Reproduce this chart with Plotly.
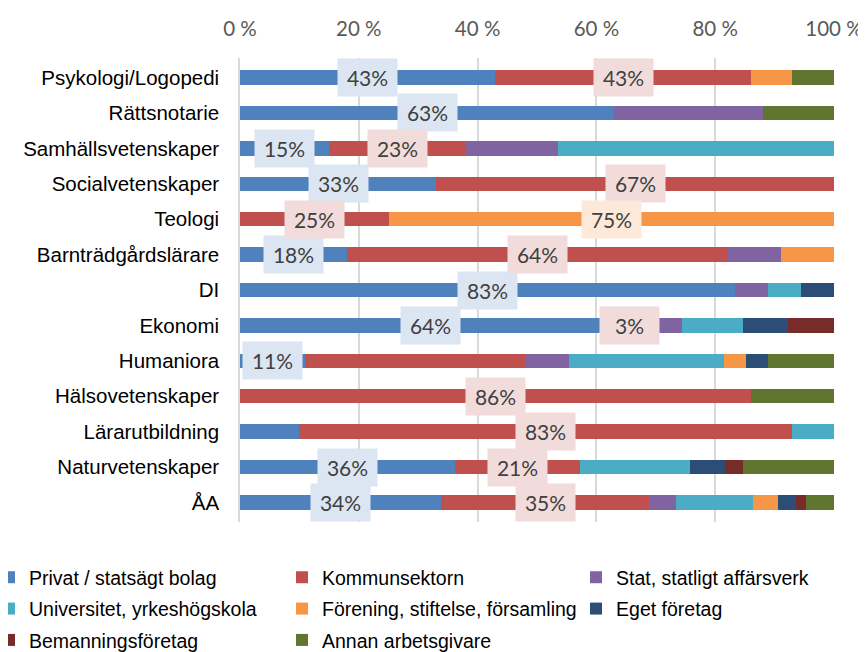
import plotly.graph_objects as go

categories = ["Psykologi/Logopedi", "Rättsnotarie", "Samhällsvetenskaper", "Socialvetenskaper",
              "Teologi", "Barnträdgårdslärare", "DI", "Ekonomi", "Humaniora",
              "Hälsovetenskaper", "Lärarutbildning", "Naturvetenskaper", "ÅA"]

series_names = ["Privat / statsägt bolag", "Kommunsektorn", "Stat, statligt affärsverk",
                "Universitet, yrkeshögskola", "Förening, stiftelse, församling", "Eget företag",
                "Bemanningsföretag", "Annan arbetsgivare"]

privat      = [43, 63, 15, 33, 0, 18, 83, 64, 11, 0, 10, 36, 34]
kommun      = [43, 0, 23, 67, 25, 64, 0, 3, 37, 86, 83, 21, 35]
stat        = [0, 25, 15.4, 0, 0, 9, 5.7, 7.4, 7.3, 0, 0, 0, 4.7]
universitet = [0, 0, 46.3, 0, 0, 0, 5.5, 10.2, 26.1, 0, 7, 18.3, 12.9]
forening    = [7, 0, 0, 0, 75, 9, 0, 0, 3.7, 0, 0, 0, 4.2]
eget        = [0, 0, 0, 0, 0, 0, 5.5, 7.7, 3.7, 0, 0, 6, 3]
bemanning   = [0, 0, 0, 0, 0, 0, 0, 7.7, 0, 0, 0, 3, 1.7]
annan       = [7, 12, 0, 0, 0, 0, 0, 0, 11.1, 14, 0, 15.2, 4.8]

# which data labels are shown (per series, per category)
label_privat   = [1, 1, 1, 1, 0, 1, 1, 1, 1, 0, 0, 1, 1]
label_kommun   = [1, 0, 1, 1, 1, 1, 0, 1, 0, 1, 1, 1, 1]
label_forening = [0, 0, 0, 0, 1, 0, 0, 0, 0, 0, 0, 0, 0]

x_ticks = [0, 20, 40, 60, 80, 100]
x_ticktext = [f"{v} %" for v in x_ticks]

colors = ["#4F81BD", "#C0504D", "#8064A2", "#4BACC6", "#F79646", "#2C4D75", "#772C2A", "#5F7530"]
label_bg = {0: "#DCE6F2", 1: "#F2DCDB", 4: "#FDE9D9"}
legend_of = ["legend", "legend2", "legend3", "legend", "legend2", "legend3", "legend", "legend2"]

all_series = [privat, kommun, stat, universitet, forening, eget, bemanning, annan]
label_flags = {0: label_privat, 1: label_kommun, 4: label_forening}

TXT = "Liberation Sans, Arial, sans-serif"
NUM = "Lato, Open Sans, sans-serif"

fig = go.Figure()
for idx, (name, vals, col, lg) in enumerate(zip(series_names, all_series, colors, legend_of)):
    fig.add_trace(go.Bar(
        y=categories, x=vals, name=name, orientation="h",
        marker=dict(color=col, line=dict(width=0)),
        legend=lg, legendgroup=f"g{idx}", hoverinfo="x+y+name",
    ))

# data labels with background boxes, centered on their segments (series by series)
annotations = []
for k, vals in enumerate(all_series):
    if k not in label_flags:
        continue
    for i, cat in enumerate(categories):
        if not label_flags[k][i]:
            continue
        row = [s[i] for s in all_series]
        tot = sum(row)
        start = sum(row[:k]) / tot * 100
        vn = vals[i] / tot * 100
        annotations.append(dict(
            x=start + vn / 2, y=cat, xref="x", yref="y",
            text=f"{round(vals[i])}%", showarrow=False,
            font=dict(family=NUM, size=21, color="#404040"),
            bgcolor=label_bg[k], width=57, height=35, borderpad=1,
            align="center", valign="middle",
        ))

legend_font = dict(family=TXT, size=19.5, color="#000000")
common_leg = dict(orientation="v", yanchor="top", xanchor="left", y=-0.0777,
                  traceorder="grouped", font=legend_font, itemclick=False,
                  bgcolor="rgba(0,0,0,0)", tracegroupgap=3)

fig.update_layout(
    barmode="stack", barnorm="percent", bargap=0.595,
    width=866, height=652,
    margin=dict(l=232, r=40, t=50, b=138, autoexpand=False),
    paper_bgcolor="white", plot_bgcolor="white",
    annotations=annotations,
    legend=dict(x=-0.4226, **common_leg),
    legend2=dict(x=0.0707, **common_leg),
    legend3=dict(x=0.5657, **common_leg),
    font=dict(family=TXT),
)
fig.update_xaxes(range=[0, 100], side="top", tickvals=x_ticks, ticktext=x_ticktext,
                 showgrid=True, gridcolor="#D9D9D9", gridwidth=1.5, zeroline=False,
                 tickfont=dict(family=NUM, size=20.5, color="#595959"),
                 ticks="", ticklabelstandoff=17, fixedrange=True, automargin=False)
fig.update_yaxes(autorange="reversed", showline=True, linecolor="#D9D9D9", linewidth=1.5,
                 tickfont=dict(family=TXT, size=20.5, color="#000000"),
                 ticks="", ticklabelstandoff=15, fixedrange=True, automargin=False)

fig.write_html("out.html")
